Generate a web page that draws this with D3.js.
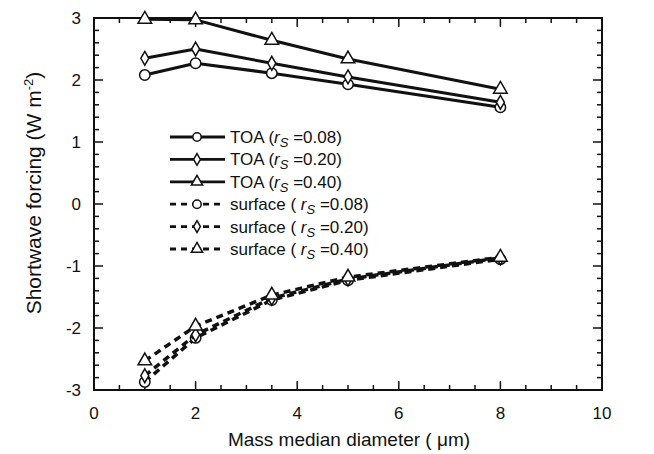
<!DOCTYPE html>
<html>
<head>
<meta charset="utf-8">
<script src="https://d3js.org/d3.v7.min.js"></script>
<style>
  body { margin: 0; background: #fff; }
  text { font-family: 'Liberation Sans', Arial, sans-serif; fill: #111; }
  .line { fill: none; stroke: #111; stroke-width: 3px; stroke-linejoin: round; }
  .dash { stroke-width: 3.5px; stroke-dasharray: 7,5; }
  .mark { fill: #fff; stroke: #111; stroke-width: 1.5px; }
</style>
</head>
<body>
<div id="chart"></div>
<script>
// data
var diameter = [1, 2, 3.5, 5, 8];
var toa008 = [2.08, 2.27, 2.11, 1.93, 1.56];
var toa020 = [2.35, 2.50, 2.27, 2.05, 1.64];
var toa040 = [2.98, 2.97, 2.64, 2.34, 1.85];
var sfc008 = [-2.87, -2.16, -1.55, -1.23, -0.89];
var sfc020 = [-2.77, -2.11, -1.52, -1.21, -0.87];
var sfc040 = [-2.53, -1.97, -1.47, -1.18, -0.86];
var xTicks = [0, 2, 4, 6, 8, 10];
var yTicks = [-3, -2, -1, 0, 1, 2, 3];

var series = [
  { kind: "TOA (", rs: "0.08", vals: toa008, sym: "circle", dashed: false },
  { kind: "TOA (", rs: "0.20", vals: toa020, sym: "diamond", dashed: false },
  { kind: "TOA (", rs: "0.40", vals: toa040, sym: "triangle", dashed: false },
  { kind: "surface ( ", rs: "0.08", vals: sfc008, sym: "circle", dashed: true },
  { kind: "surface ( ", rs: "0.20", vals: sfc020, sym: "diamond", dashed: true },
  { kind: "surface ( ", rs: "0.40", vals: sfc040, sym: "triangle", dashed: true }
];

var W = 654, H = 454;
var m = { left: 94, right: 52, top: 18, bottom: 64 };
var w = W - m.left - m.right, h = H - m.top - m.bottom;

var svg = d3.select("#chart").append("svg").attr("width", W).attr("height", H);
var g = svg.append("g").attr("transform", "translate(" + m.left + "," + m.top + ")");

var x = d3.scaleLinear().domain([0, 10]).range([0, w]);
var y = d3.scaleLinear().domain([-3, 3]).range([h, 0]);

// frame
g.append("rect").attr("width", w).attr("height", h)
  .attr("fill", "none").attr("stroke", "#111").attr("stroke-width", 2);

// ticks pointing inward, on all four sides
var xMinor = d3.range(0, 10.01, 0.5);
var yMinor = d3.range(-3, 3.01, 0.2);
function isMajor(v) { return Math.abs(v - Math.round(v)) < 1e-6; }

xMinor.forEach(function(v) {
  var len = (Math.abs(v % 2) < 1e-6) ? 9 : 5;
  g.append("line").attr("x1", x(v)).attr("x2", x(v)).attr("y1", h).attr("y2", h - len).attr("stroke", "#111").attr("stroke-width", 1.5);
  g.append("line").attr("x1", x(v)).attr("x2", x(v)).attr("y1", 0).attr("y2", len).attr("stroke", "#111").attr("stroke-width", 1.5);
});
yMinor.forEach(function(v) {
  var len = isMajor(+v.toFixed(2)) ? 9 : 5;
  g.append("line").attr("x1", 0).attr("x2", len).attr("y1", y(v)).attr("y2", y(v)).attr("stroke", "#111").attr("stroke-width", 1.5);
  g.append("line").attr("x1", w).attr("x2", w - len).attr("y1", y(v)).attr("y2", y(v)).attr("stroke", "#111").attr("stroke-width", 1.5);
});

g.selectAll(".xl").data(xTicks).enter().append("text")
  .attr("x", function(d) { return x(d); }).attr("y", h + 29)
  .attr("text-anchor", "middle").attr("font-size", 17).text(function(d) { return d; });
g.selectAll(".yl").data(yTicks).enter().append("text")
  .attr("x", -13).attr("y", function(d) { return y(d) + 6; })
  .attr("text-anchor", "end").attr("font-size", 17).text(function(d) { return d; });

// axis titles
svg.append("text").attr("x", 349).attr("y", 446)
  .attr("text-anchor", "middle").attr("font-size", 19)
  .text("Mass median diameter ( \u03bcm)");
var yt = svg.append("text").attr("transform", "translate(41,193) rotate(-90)")
  .attr("text-anchor", "middle").attr("font-size", 21);
yt.append("tspan").text("Shortwave forcing (W m");
yt.append("tspan").attr("dy", -8).attr("font-size", 13).text("-2");
yt.append("tspan").attr("dy", 8).text(")");

var symGen = {
  circle: d3.symbol().type(d3.symbolCircle).size(85),
  diamond: d3.symbol().type(d3.symbolDiamond).size(55),
  triangle: d3.symbol().type(d3.symbolTriangle).size(80)
};

var line = d3.line().x(function(d) { return x(d[0]); }).y(function(d) { return y(d[1]); });

series.forEach(function(s) {
  var pts = diameter.map(function(d, i) { return [d, s.vals[i]]; });
  g.append("path").datum(pts).attr("class", "line" + (s.dashed ? " dash" : "")).attr("d", line);
  g.selectAll(null).data(pts).enter().append("path")
    .attr("class", "mark")
    .attr("transform", function(d) { return "translate(" + x(d[0]) + "," + y(d[1]) + ")"; })
    .attr("d", symGen[s.sym]);
});

// legend
var lg = svg.append("g").attr("transform", "translate(170,137)");
series.forEach(function(s, i) {
  var row = lg.append("g").attr("transform", "translate(0," + (i * 22.4) + ")");
  row.append("line").attr("x1", 0).attr("x2", 55).attr("y1", 0).attr("y2", 0)
    .attr("stroke", "#111").attr("stroke-width", 2.8)
    .attr("stroke-dasharray", s.dashed ? "6,5" : null);
  row.append("path").attr("class", "mark").attr("transform", "translate(27,0)")
    .attr("d", d3.symbol().type(s.sym === "circle" ? d3.symbolCircle : s.sym === "diamond" ? d3.symbolDiamond : d3.symbolTriangle).size(s.sym === "diamond" ? 40 : 55));
  var t = row.append("text").attr("x", 60).attr("y", 6).attr("font-size", 17).attr("xml:space", "preserve");
  t.append("tspan").text(s.kind);
  t.append("tspan").attr("font-style", "italic").text("r");
  t.append("tspan").attr("font-style", "italic").attr("font-size", 13).attr("dy", 4).text("S");
  t.append("tspan").attr("dy", -4).text(" =" + s.rs + ")");
});
</script>
</body>
</html>
